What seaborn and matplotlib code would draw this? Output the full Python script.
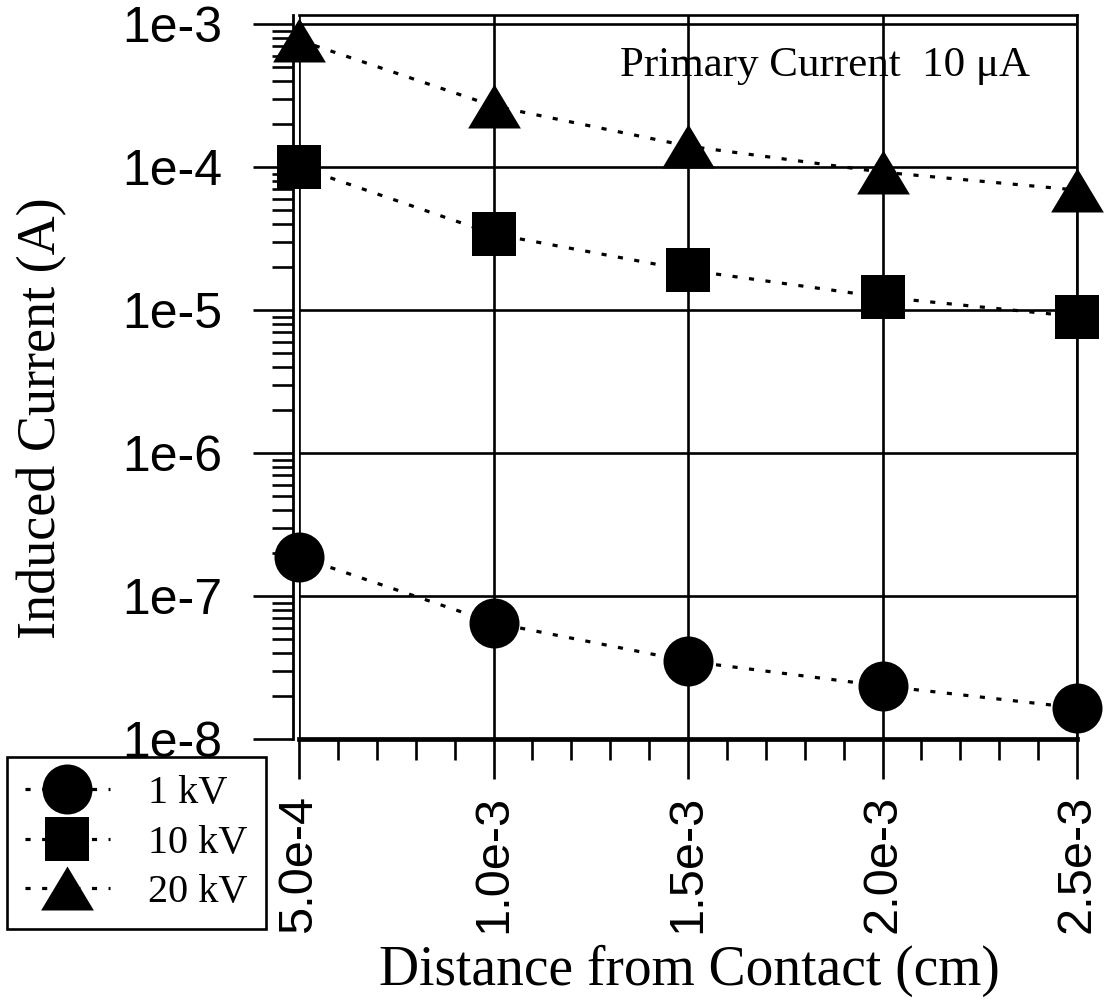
import matplotlib
matplotlib.use("Agg")
import matplotlib.pyplot as plt
from matplotlib.ticker import FixedLocator, LogLocator, MultipleLocator, NullFormatter
import pandas as pd
import seaborn as sns

# Measured induced current versus distance from the contact
distance_cm = [5.0e-4, 1.0e-3, 1.5e-3, 2.0e-3, 2.5e-3]
current_1kv = [1.88e-7, 6.5e-8, 3.5e-8, 2.35e-8, 1.65e-8]
current_10kv = [1.0e-4, 3.4e-5, 1.9e-5, 1.23e-5, 9.0e-6]
current_20kv = [7.7e-4, 2.67e-4, 1.40e-4, 9.2e-5, 6.9e-5]
series_labels = ["1 kV", "10 kV", "20 kV"]

x_tick_values = [5.0e-4, 1.0e-3, 1.5e-3, 2.0e-3, 2.5e-3]
x_tick_labels = ["5.0e-4", "1.0e-3", "1.5e-3", "2.0e-3", "2.5e-3"]
y_tick_values = [1e-8, 1e-7, 1e-6, 1e-5, 1e-4, 1e-3]
y_tick_labels = ["1e-8", "1e-7", "1e-6", "1e-5", "1e-4", "1e-3"]

sns.set_style("white")
plt.rcParams["font.family"] = ["Liberation Sans", "DejaVu Sans"]
plt.rcParams.update({
    "text.color": "black",
    "axes.labelcolor": "black",
    "xtick.color": "black",
    "ytick.color": "black",
    "xtick.labelcolor": "black",
    "ytick.labelcolor": "black",
})

W, H = 1106, 1007
fig = plt.figure(figsize=(W / 100, H / 100), dpi=100)
ax_l, ax_r, ax_t, ax_b = 299, 1077, 15, 739
ax = fig.add_axes([ax_l / W, 1 - ax_b / H, (ax_r - ax_l) / W, (ax_b - ax_t) / H])
ax.set_yscale("log")
ax.set_xlim(5.0e-4, 2.5e-3)
ax.set_ylim(1e-8, 10 ** (-3 + 9 / 143))

# wide, flat triangle marker
tri = [(0, 1), (-1.2, -1), (1.2, -1), (0, 1)]
styles = [("o", 36), ("s", 31), (tri, 38)]
series = [current_1kv, current_10kv, current_20kv]

for vals, lab, (mk, ms) in zip(series, series_labels, styles):
    df = pd.DataFrame({"distance": distance_cm, "current": vals})
    sns.lineplot(data=df, x="distance", y="current", ax=ax, color="black",
                 marker=mk, markersize=ms, markeredgecolor="black",
                 markeredgewidth=0, linestyle=(0, (1.6, 3.6)), linewidth=2.3,
                 label=lab, clip_on=False, zorder=5)

# grid and frame
ax.grid(True, which="major", color="black", linewidth=1.9)
ax.set_axisbelow(True)
for side in ["top", "right"]:
    ax.spines[side].set_linewidth(1.9)
    ax.spines[side].set_color("black")
ax.spines["bottom"].set_linewidth(3.4)
ax.spines["bottom"].set_color("black")
ax.spines["left"].set_linewidth(2.0)
ax.spines["left"].set_color("black")
ax.spines["left"].set_position(("outward", 4.5))

# ticks
sans = ["Liberation Sans", "DejaVu Sans"]
ax.xaxis.set_major_locator(FixedLocator(x_tick_values))
ax.set_xticklabels(x_tick_labels, rotation=90, fontsize=35, family=sans,
                   color="black")
ax.xaxis.set_minor_locator(MultipleLocator(1e-4))
ax.xaxis.set_minor_formatter(NullFormatter())
ax.yaxis.set_major_locator(FixedLocator(y_tick_values))
ax.set_yticklabels(y_tick_labels, fontsize=36, family=sans, color="black")
ax.yaxis.set_minor_locator(LogLocator(base=10, subs=range(2, 10), numticks=20))
ax.yaxis.set_minor_formatter(NullFormatter())

ax.tick_params(axis="both", which="major", direction="out", length=29,
               width=1.9, color="black", bottom=True, left=True)
ax.tick_params(axis="both", which="minor", direction="out", length=15,
               width=1.9, color="black", bottom=True, left=True)
ax.tick_params(axis="y", which="major", pad=22)
ax.tick_params(axis="x", which="major", pad=11)

# axis labels
serif = ["Liberation Serif", "DejaVu Serif"]
ax.set_xlabel("Distance from Contact (cm)", fontsize=40, family=serif,
              va="baseline", color="black")
ax.xaxis.set_label_coords((689 - ax_l) / (ax_r - ax_l), (ax_b - 985) / (ax_b - ax_t))
ax.set_ylabel("Induced Current (A)", fontsize=39, family=serif, va="center",
              color="black")
ax.yaxis.set_label_coords((42 - ax_l) / (ax_r - ax_l), (ax_b - 418) / (ax_b - ax_t))

ax.text((620 - ax_l) / (ax_r - ax_l), (ax_b - 76) / (ax_b - ax_t),
        "Primary Current  10 \u03bcA", transform=ax.transAxes,
        fontsize=31, family=serif, ha="left", va="baseline", color="black")

# legend
handles, labels = ax.get_legend_handles_labels()
ax.get_legend().remove()
leg = ax.legend(handles, labels, loc="upper left",
                bbox_to_anchor=(7 / W, 1 - 757 / H), bbox_transform=fig.transFigure,
                borderaxespad=0, frameon=True, fancybox=False, shadow=False,
                prop={"family": serif, "size": 29}, handlelength=2.1,
                handletextpad=0.95, borderpad=0.45, labelspacing=0.3,
                markerscale=1.0)
leg.get_frame().set_edgecolor("black")
leg.get_frame().set_linewidth(1.9)
leg.get_frame().set_facecolor("white")
leg.get_frame().set_alpha(1)
for t in leg.get_texts():
    t.set_color("black")
leg.set_zorder(10)

fig.savefig("out.png", dpi=100, facecolor="white")
